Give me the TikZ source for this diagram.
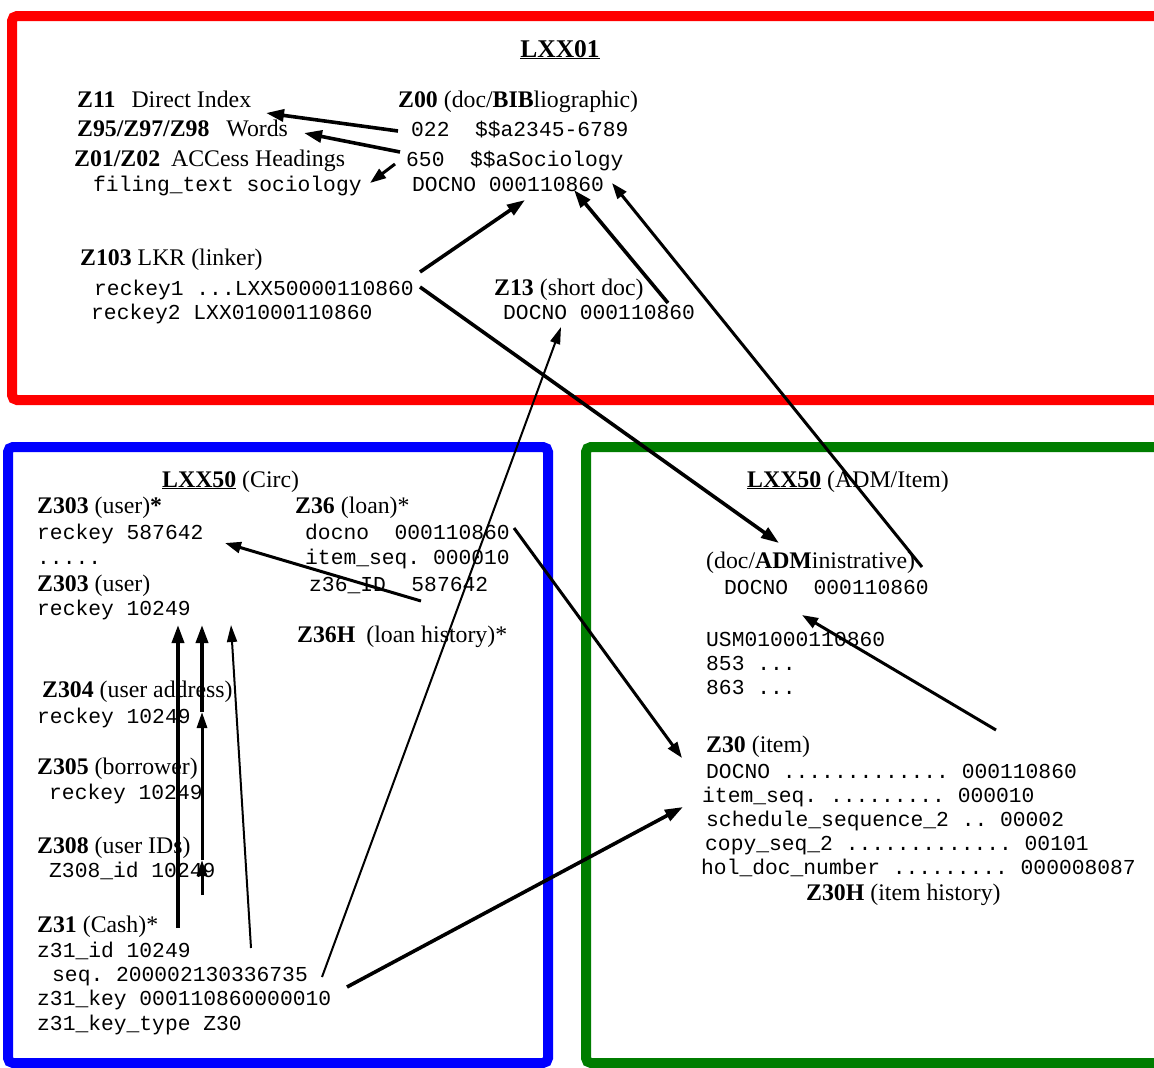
\documentclass[tikz,border=0pt]{standalone}
\usepackage{fontspec}
\setmainfont{Liberation Serif}
\setmonofont{Liberation Mono}
\usetikzlibrary{arrows.meta}
\definecolor{libred}{RGB}{255,0,0}
\definecolor{circblue}{RGB}{0,0,255}
\definecolor{admgreen}{RGB}{0,125,0}
\begin{document}
\begin{tikzpicture}[x=1pt,y=-1pt,
  lbl/.style={anchor=base west,inner sep=0pt,font=\fontsize{23.8}{28}\selectfont},
  code/.style={anchor=base west,inner sep=0pt,font=\fontsize{21.3}{25}\selectfont\ttfamily},
  frame/.style={line width=10pt,rounded corners=5pt},
  arr/.style={line width=3.6pt,-{Triangle[length=18pt,width=12pt]}},
  arrm/.style={line width=3pt,-{Triangle[length=16pt,width=11pt]}},
  arrt/.style={line width=2pt,-{Triangle[length=17pt,width=10pt]}},
  tip/.style={line width=3pt,-{Triangle[length=16pt,width=10pt]}}]
\useasboundingbox (0,0) rectangle (1154,1068);
\fill[white] (0,0) rectangle (1154,1068);

% library frames
\draw[frame,libred] (12,16) rectangle (1180,400);
\draw[frame,circblue] (8,447) rectangle (548,1063);
\draw[frame,admgreen] (586,447) rectangle (1180,1063);

% ---- LXX01 (bibliographic library)
\node[lbl,anchor=base,font=\fontsize{25.5}{29}\selectfont] (lxx01) at (560,57) {\textbf{\underline{LXX01}}};
\node[lbl] (z11) at (77,107) {\textbf{Z11}\hspace{16pt}Direct Index};
\node[lbl] (z00) at (398,107) {\textbf{Z00} (doc/\textbf{BIB}liographic)};
\node[lbl] (z95) at (77,136) {\textbf{Z95/Z97/Z98}\hspace{17pt}Words};
\node[code] (c022) at (411,136) {022~~\$\$a2345-6789};
\node[lbl] (z01) at (74,166) {\textbf{Z01/Z02}\hspace{11pt}ACCess Headings};
\node[code] (c650) at (406,166) {650~~\$\$aSociology};
\node[code] (filing) at (93,191) {filing\_text sociology};
\node[code] (bibdoc) at (412,191) {DOCNO 000110860};
\node[lbl] (z103) at (80,265) {\textbf{Z103} LKR (linker)};
\node[code] (rk1) at (94,295) {reckey1 ...LXX50000110860};
\node[code] (rk2) at (91,319) {reckey2 LXX01000110860};
\node[lbl] (z13) at (494,295) {\textbf{Z13} (short doc)};
\node[code] (z13doc) at (503,319) {DOCNO 000110860};

% ---- LXX50 circulation
\node[lbl] (circ) at (162,487) {\textbf{\underline{LXX50}} (Circ)};
\node[lbl] (z303a) at (37,513) {\textbf{Z303} (user)\textbf{*}};
\node[code] (rka) at (37,539) {reckey 587642};
\node[code] (dots) at (37,564) {.....};
\node[lbl] (z303b) at (37,591) {\textbf{Z303} (user)};
\node[code] (rkb) at (37,615) {reckey 10249};
\node[lbl] (z36) at (295,513) {\textbf{Z36} (loan)*};
\node[code] (z36doc) at (305,539) {docno~~000110860};
\node[code] (z36seq) at (305,564) {item\_seq. 000010};
\node[code] (z36id) at (309,591) {z36\_ID~~587642};
\node[lbl] (z36h) at (297,642) {\textbf{Z36H}\hspace{11pt}(loan history)*};
\node[lbl] (z304) at (42,697) {\textbf{Z304} (user address)};
\node[code] (rkc) at (37,723) {reckey 10249};
\node[lbl] (z305) at (37,774) {\textbf{Z305} (borrower)};
\node[code] (rkd) at (49,799) {reckey 10249};
\node[lbl] (z308) at (37,853) {\textbf{Z308} (user IDs)};
\node[code] (z308id) at (49,877) {Z308\_id 10249};
\node[lbl] (z31) at (37,932) {\textbf{Z31} (Cash)*};
\node[code] (z31id) at (37,957) {z31\_id 10249};
\node[code] (z31seq) at (52,981) {seq. 200002130336735};
\node[code] (z31key) at (37,1005) {z31\_key 000110860000010};
\node[code] (z31type) at (37,1030) {z31\_key\_type Z30};

% ---- LXX50 administrative / items
\node[lbl] (adm) at (747,487) {\textbf{\underline{LXX50}} (ADM/Item)};
\node[lbl] (admdoc) at (706,568) {(doc/\textbf{ADM}inistrative)};
\node[code] (admno) at (724,594) {DOCNO~~000110860};
\node[code] (usm) at (706,646) {USM01000110860};
\node[code] (f853) at (706,670) {853 ...};
\node[code] (f863) at (706,694) {863 ...};
\node[lbl] (z30) at (706,752) {\textbf{Z30} (item)};
\node[code] (z30doc) at (706,778) {DOCNO ............. 000110860};
\node[code] (z30seq) at (702,802) {item\_seq. ......... 000010};
\node[code] (z30sch) at (706,826) {schedule\_sequence\_2 .. 00002};
\node[code] (z30copy) at (705,850) {copy\_seq\_2 ............. 00101};
\node[code] (z30hol) at (701,874) {hol\_doc\_number ......... 000008087};
\node[lbl] (z30h) at (806,900) {\textbf{Z30H} (item history)};

% ---- links inside LXX01
\draw[arr] ([shift={(-13,-5)}]c022.base west) -- ([shift={(189,6)}]z11.base west);
\draw[arr] ([shift={(-6,-14)}]c650.base west) -- ([shift={(227,-3)}]z95.base west);
\draw[arrm] ([shift={(-11,-2)}]c650.base west) -- ([shift={(277,-8)}]filing.base west);
\draw[arr] ([shift={(326,-23)}]rk1.base west) -- ([shift={(113,9)}]bibdoc.base west);
\draw[arr] ([shift={(165,-16)}]z13doc.base west) -- ([shift={(162,-1)}]bibdoc.base west);

% ---- links between libraries
\draw[arrm] ([shift={(216,-1)}]admdoc.base west) -- ([shift={(200,-8)}]bibdoc.base west);
\draw[arr] ([shift={(326,-8)}]rk1.base west) -- ([shift={(73,-25)}]admdoc.base west);
\draw[arrt] ([shift={(270,-4)}]z31seq.base west) -- ([shift={(58,8)}]z13doc.base west);
\draw[arr] ([shift={(310,-18)}]z31key.base west) -- ([shift={(-19,5)}]z30seq.base west);
\draw[arrm] ([shift={(209,-11)}]z36doc.base west) -- ([shift={(-24,-20)}]z30doc.base west);

% ---- links inside the circulation library
\draw[arrm] ([shift={(112,10)}]z36id.base west) -- ([shift={(188,4)}]rka.base west);
\draw[arr] ([shift={(141,-4)}]z31.base west) -- ([shift={(141,10)}]rkb.base west);
\draw[tip] ([shift={(153,18)}]z308id.base west) -- ([shift={(153,-17)}]z308id.base west);
\draw[tip] ([shift={(153,-17)}]z308id.base west) -- ([shift={(165,-11)}]rkc.base west);
\draw[arr] ([shift={(165,-11)}]rkc.base west) -- ([shift={(165,10)}]rkb.base west);
\draw[arrt] ([shift={(214,-9)}]z31id.base west) -- ([shift={(194,10)}]rkb.base west);

% ---- link inside the administrative library
\draw[arrm] ([shift={(290,-22)}]z30.base west) -- ([shift={(78,21)}]admno.base west);
\end{tikzpicture}
\end{document}
